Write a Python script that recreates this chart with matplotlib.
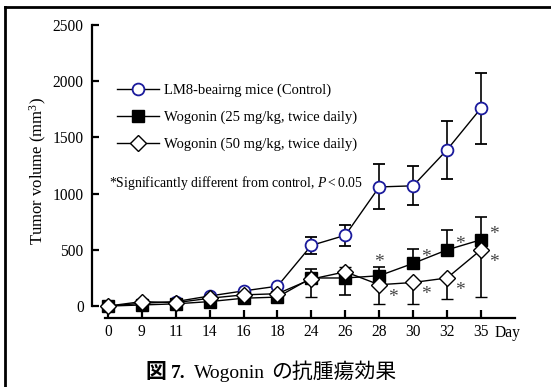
import matplotlib.pyplot as plt
import numpy as np
from matplotlib.lines import Line2D

# -----------------------data-----------------------
days = ['0', '9', '11', '14', '16', '18', '24', '26', '28', '30', '32', '35']

ctrl      = np.array([0, 25, 40, 90, 135, 177, 540, 630, 1060, 1070, 1390, 1760])
ctrl_err  = np.array([0, 0, 0, 0, 0, 0, 75, 95, 200, 175, 260, 315])

wog25        = np.array([0, 10, 20, 40, 70, 80, 250, 250, 270, 380, 500, 590])
wog25_err_lo = np.array([0, 0, 0, 0, 0, 0, 0, 150, 0, 0, 0, 0])
wog25_err_hi = np.array([0, 0, 0, 0, 0, 0, 80, 0, 75, 125, 175, 200])

wog50        = np.array([0, 40, 30, 70, 100, 110, 240, 305, 190, 210, 250, 500])
wog50_err_lo = np.array([0, 0, 0, 0, 0, 0, 155, 0, 175, 195, 190, 415])
wog50_err_hi = np.array([0, 0, 0, 0, 0, 0, 0, 40, 0, 0, 0, 0])

# which points carry a significance star
star25 = [8, 9, 10, 11]
star50 = [8, 9, 10, 11]

# -----------------------Fig configuration-----------------------
plt.rcParams['font.family'] = ['Liberation Serif', 'Noto Sans CJK JP']
plt.rcParams['mathtext.fontset'] = 'custom'
plt.rcParams['mathtext.rm'] = 'Liberation Serif'
plt.rcParams['mathtext.it'] = 'Liberation Serif:italic'

black = '#000000'
navy = '#1a1a9c'
star_gray = '#444444'
tick_size = 11.2
legend_size = 10.5
W, H = 551, 387

fig = plt.figure(figsize=(5.51, 3.87), dpi=100)
ax = fig.add_axes([0.167, 0.178, 0.768, 0.763])

x = np.arange(len(days))

# draw lines
ax.errorbar(x, ctrl, yerr=ctrl_err, color=black, lw=1, capsize=4.5, capthick=1.2,
            elinewidth=1.2, marker='o', markersize=8.5, markerfacecolor='white',
            markeredgecolor=navy, markeredgewidth=1.3, zorder=3)
ax.errorbar(x, wog25, yerr=[wog25_err_lo, wog25_err_hi], color=black, lw=1, capsize=4.5,
            capthick=1.2, elinewidth=1.2, marker='s', markersize=8.5,
            markerfacecolor=black, markeredgecolor=black, zorder=4)
ax.errorbar(x, wog50, yerr=[wog50_err_lo, wog50_err_hi], color=black, lw=1, capsize=4.5,
            capthick=1.2, elinewidth=1.2, marker='D', markersize=8,
            markerfacecolor='white', markeredgecolor=black, markeredgewidth=1.0, zorder=5)

# stars
for i in star25:
    if i == 8:
        ax.annotate('*', (x[i], wog25[i] + wog25_err_hi[i]), xytext=(0, -3),
                    textcoords='offset points', ha='center', va='bottom',
                    fontsize=14, color=star_gray)
    else:
        ax.annotate('*', (x[i], wog25[i]), xytext=(6, -2), textcoords='offset points',
                    ha='left', va='bottom', fontsize=14, color=star_gray)
for i in star50:
    ax.annotate('*', (x[i], wog50[i]), xytext=(6, -15), textcoords='offset points',
                ha='left', va='bottom', fontsize=14, color=star_gray)

# legend
handles = [
    Line2D([], [], color=black, lw=1, marker='o', markersize=8.5, markerfacecolor='white',
           markeredgecolor=navy, markeredgewidth=1.3),
    Line2D([], [], color=black, lw=1, marker='s', markersize=8.5, markerfacecolor=black),
    Line2D([], [], color=black, lw=1, marker='D', markersize=8, markerfacecolor='white',
           markeredgecolor=black),
]
labels = ['LM8-beairng mice (Control)', 'Wogonin (25 mg/kg, twice daily)',
          'Wogonin (50 mg/kg, twice daily)']
ax.legend(handles, labels, loc='upper left', bbox_to_anchor=(0.045, 0.815),
          frameon=False, fontsize=legend_size, handlelength=2.9, handletextpad=0.3,
          labelspacing=0.95, borderaxespad=0)

ax.text(0.04, 0.457, r'*Significantly different from control, $\mathit{P<0.05}$',
        transform=ax.transAxes, fontsize=9.9, ha='left', va='center')

# axes
ax.set_xlim(-0.47, 12.01)
ax.set_ylim(-107, 2520)
ax.spines['top'].set_visible(False)
ax.spines['right'].set_visible(False)
ax.spines['left'].set_linewidth(1.6)
ax.spines['bottom'].set_linewidth(1.6)
ax.spines['left'].set_bounds(0, 2500)
ax.spines['bottom'].set_bounds(-0.1, 12)

ax.set_yticks([0, 500, 1000, 1500, 2000, 2500])
ax.set_xticks(x)
ax.set_xticklabels(days)
ax.tick_params(axis='both', direction='in', width=1.6, labelsize=tick_size)
ax.tick_params(axis='x', length=6, pad=4)
ax.tick_params(axis='y', length=5, pad=6)

ax.text(11.4, -0.024, 'Day', transform=ax.get_xaxis_transform(), fontsize=tick_size,
        ha='left', va='top')

ax.set_ylabel('Tumor volume (mm$^3$)', fontsize=12)
ax.yaxis.set_label_coords(-0.102, 0.5)

# caption
cap_y = 1 - 378 / H
fig.text(145 / W, cap_y, '図', fontsize=15, fontweight='bold', ha='left', va='baseline',
         family='Noto Sans CJK JP')
fig.text(171 / W, cap_y, '7.', fontsize=14, fontweight='bold', ha='left', va='baseline')
fig.text(194 / W, cap_y, 'Wogonin', fontsize=14, ha='left', va='baseline')
fig.text(271 / W, cap_y, 'の抗腫瘍効果', fontsize=15, ha='left', va='baseline',
         family='Noto Sans CJK JP')

# frame
fig.add_artist(Line2D([5 / W, 5 / W], [0, 1 - 7 / H], color=black, lw=2,
                      transform=fig.transFigure))
fig.add_artist(Line2D([5 / W, 1], [1 - 7 / H, 1 - 7 / H], color=black, lw=2,
                      transform=fig.transFigure))

plt.savefig('out.png', dpi=100)
